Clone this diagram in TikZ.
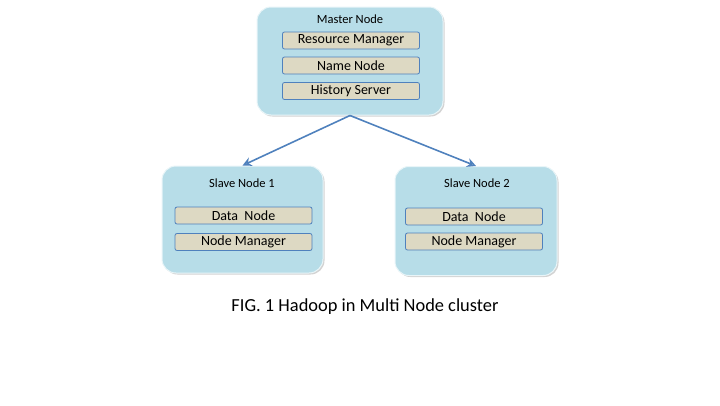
\documentclass[tikz,border=0pt]{standalone}
\usepackage{fontspec}
\setmainfont{Carlito}
\usetikzlibrary{shadows}
\usetikzlibrary{arrows.meta}

\definecolor{boxblue}{HTML}{B7DDE8}
\definecolor{boxtan}{HTML}{DDD9C3}
\definecolor{lineblue}{HTML}{4F81BD}

\tikzset{
  hostbox/.style={draw=white!70!boxblue, line width=1pt, fill=boxblue, rounded corners=14pt,
    drop shadow={shadow xshift=1.5pt, shadow yshift=-1.5pt, opacity=0.35}},
  svcbox/.style={draw=lineblue, line width=0.8pt, fill=boxtan, rounded corners=2pt,
    minimum width=137pt, minimum height=17pt, inner sep=0pt, font=\fontsize{14}{16}\selectfont},
  hostlabel/.style={font=\fontsize{12.5}{14}\selectfont},
  link/.style={draw=lineblue, line width=1.6pt, -{Stealth[length=9pt, width=9pt, open, line width=1.6pt]}}
}

\begin{document}
\begin{tikzpicture}[x=1pt, y=-1pt]
  \useasboundingbox (0,0) rectangle (720,405);

  \node[hostbox, minimum width=186pt, minimum height=108pt] (master) at (350,61) {};
  \node[hostlabel] (masterlbl) at (350,19) {Master Node};
  \node[svcbox] (rm) at (351,40.5) {Resource Manager};
  \node[svcbox] (nn) at (351,65.5) {Name Node};
  \node[svcbox] (hs) at (351,91) {History Server};

  \node[hostbox, minimum width=161pt, minimum height=107pt] (slave1) at (242.5,219.5) {};
  \node[hostlabel] (slave1lbl) at (242,183) {Slave Node 1};
  \node[svcbox] (dn1) at (243.5,215.5) {Data\ \ Node};
  \node[svcbox] (nm1) at (243.5,242) {Node Manager};

  \node[hostbox, minimum width=162pt, minimum height=109pt] (slave2) at (476,221) {};
  \node[hostlabel] (slave2lbl) at (477,183) {Slave Node 2};
  \node[svcbox] (dn2) at (474,216.5) {Data\ \ Node};
  \node[svcbox] (nm2) at (474,241.5) {Node Manager};

  \path[link] (master.south) -- (slave1.north);
  \path[link] (master.south) -- (slave2.north);

  \node[font=\fontsize{18.4}{22}\selectfont] (caption) at (365,307) {FIG. 1 Hadoop in Multi Node cluster};
\end{tikzpicture}
\end{document}
